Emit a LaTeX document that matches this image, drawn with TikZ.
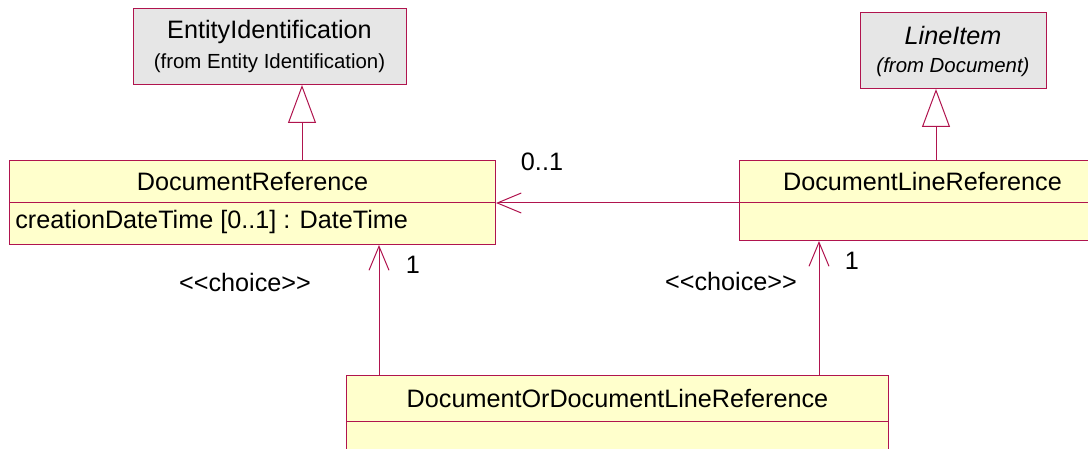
\documentclass[tikz,border=0pt]{standalone}
\usepackage{fontspec}
\setmainfont{Liberation Sans}
\usetikzlibrary{arrows.meta}

\definecolor{umlred}{RGB}{176,20,78}
\definecolor{umlgray}{RGB}{230,230,230}
\definecolor{umlyellow}{RGB}{255,255,204}

\begin{document}
\begin{tikzpicture}[x=0.5pt,y=-0.5pt,
    box/.style={draw=umlred,line width=0.5pt,inner sep=0pt,anchor=north west,font=\fontsize{12.6}{14}\selectfont},
    ybox/.style={box,fill=umlyellow},
    gbox/.style={box,fill=umlgray},
    lbl/.style={inner sep=0pt,font=\fontsize{12.6}{14}\selectfont},
    from/.style={inner sep=0pt,font=\fontsize{10.2}{12}\selectfont},
    gen/.style={draw=umlred,line width=0.5pt,-{Triangle[open,length=19pt,width=14pt,fill=white]}},
    nav/.style={draw=umlred,line width=0.5pt,-{Straight Barb[length=12pt,width=10pt]}}]
    \clip (0,0) rectangle (1088,449);

    % superclasses
    \node[gbox,minimum width=136.5pt,minimum height=38pt] (ent) at (133,8) {};
    \node[lbl] (entname) at (269.5,32) {EntityIdentification};
    \node[from] (entfrom) at (269.5,63) {(from Entity Identification)};
    \node[gbox,minimum width=93pt,minimum height=38pt] (li) at (860,12) {};
    \node[lbl] (liname) at (953,35) {\itshape LineItem};
    \node[from] (lifrom) at (953,67) {\itshape (from Document)};

    % classes
    \node[ybox,minimum width=243pt,minimum height=21pt] (docref) at (9,160) {DocumentReference};
    \node[ybox,minimum width=243pt,minimum height=21pt] (docrefattr) at (9,202) {};
    \node[lbl,anchor=west] (attr) at (15,222) {creationDateTime [0..1] : DateTime};
    \node[ybox,minimum width=183pt,minimum height=21pt] (dlr) at (739,160) {DocumentLineReference};
    \node[ybox,minimum width=183pt,minimum height=19pt] (dlrattr) at (739,202) {};
    \node[ybox,minimum width=271pt,minimum height=23pt] (dodlr) at (346,375) {DocumentOrDocumentLineReference};
    \node[ybox,minimum width=271pt,minimum height=20pt] (dodlrattr) at (346,421) {};

    % links
    \draw[gen] (docref.north -| 302,0) -- (ent.south -| 302,0);
    \draw[gen] (dlr.north -| 936,0) -- (li.south -| 936,0);
    \draw[nav] (dlr.south west) -- (docref.south east);
    \draw[nav] (dodlr.north -| 379,0) -- (docrefattr.south -| 379,0);
    \draw[nav] (dodlr.north -| 819,0) -- (dlrattr.south -| 819,0);

    % labels
    \node[lbl] (mult01) at (542,162) {0..1};
    \node[lbl] (multa) at (413,265) {1};
    \node[lbl] (multb) at (852,261) {1};
    \node[lbl] (choicea) at (245,282) {{<}{<}choice{>}{>}};
    \node[lbl] (choiceb) at (731,281) {{<}{<}choice{>}{>}};
\end{tikzpicture}
\end{document}
